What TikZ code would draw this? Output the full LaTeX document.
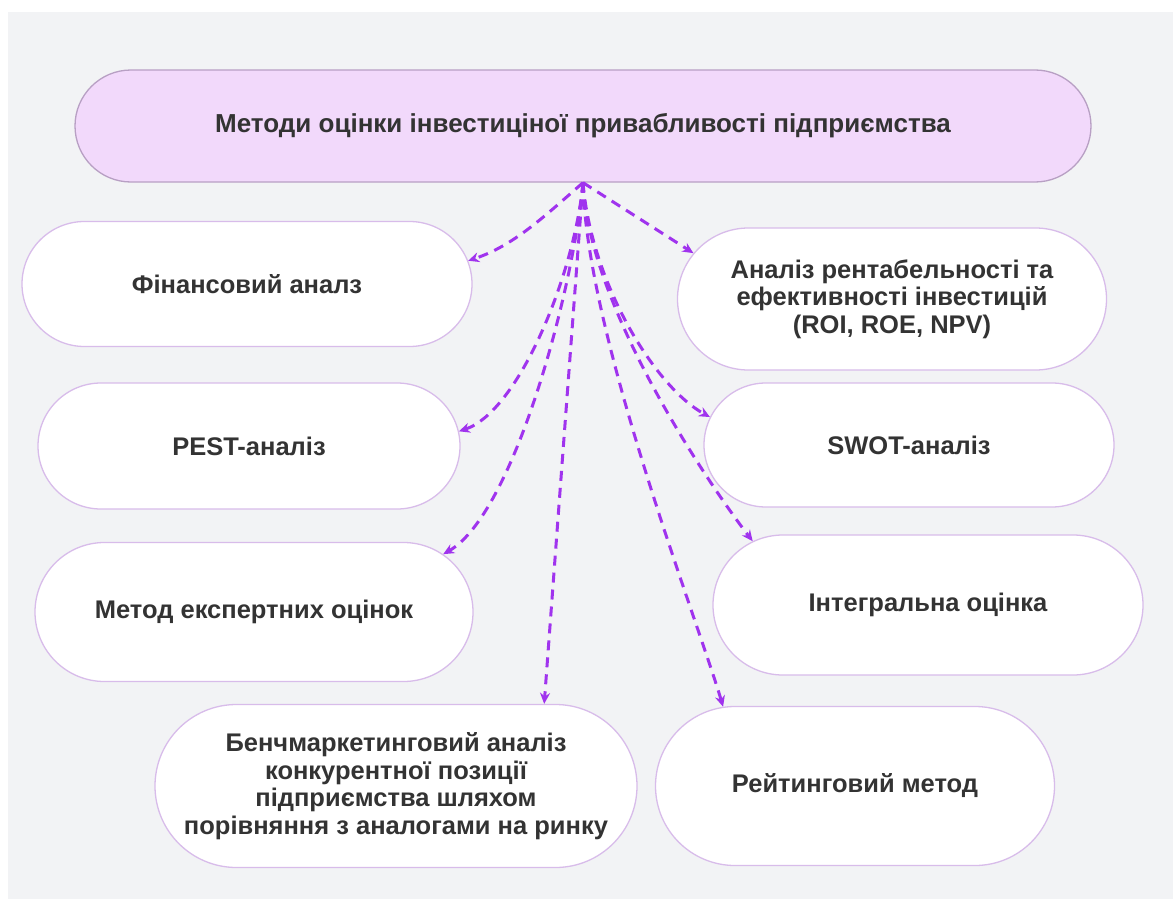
\documentclass[tikz,border=0pt]{standalone}
\usepackage{fontspec}
\setmainfont{Liberation Sans}
\usetikzlibrary{shapes.misc,arrows.meta}
\definecolor{bg}{HTML}{F2F3F5}
\definecolor{arrowc}{HTML}{A033EE}
\definecolor{nodeb}{HTML}{D8BCEA}
\definecolor{topfill}{HTML}{F2D9FB}
\definecolor{topb}{HTML}{B8A0C4}
\definecolor{txt}{HTML}{333333}
\begin{document}
\begin{tikzpicture}[x=1pt,y=-1pt,
  box/.style={rounded rectangle, draw=nodeb, line width=1.3pt, fill=white,
    align=center, text=txt, inner sep=0pt,
    font=\bfseries\fontsize{25.5}{27.5}\selectfont},
  topbox/.style={box, fill=topfill, draw=topb, font=\bfseries\fontsize{26}{28}\selectfont},
  link/.style={draw=arrowc, line width=3pt, dash pattern=on 10pt off 7pt,
    -{Stealth[length=11pt,width=10pt]}}]
\useasboundingbox (0,0) rectangle (1173,899);
\fill[white] (0,0) rectangle (1173,899);
\fill[bg] (8,12) rectangle (1173,899);

\node[topbox, minimum width=1016pt, minimum height=112pt] (top) at (583,126)
  {Методи оцінки інвестиціної привабливості підприємства};

\node[box, minimum width=450pt, minimum height=125pt] (fin) at (247,284) {Фінансовий аналз};
\node[box, minimum width=422pt, minimum height=126pt] (pest) at (249,446) {PEST-аналіз};
\node[box, minimum width=438pt, minimum height=139pt] (met) at (254,612) {Метод експертних оцінок};
\node[box, minimum width=482pt, minimum height=163pt] (ben) at (396,786)
  {Бенчмаркетинговий аналіз\\конкурентної позиції\\підприємства шляхом\\порівняння з аналогами на ринку};
\node[box, minimum width=429pt, minimum height=142pt] (an) at (892,299)
  {Аналіз рентабельності та\\ефективності інвестицій\\(ROI, ROE, NPV)};
\node[box, minimum width=410pt, minimum height=124pt] (swot) at (909,445) {SWOT-аналіз};
\node[box, minimum width=430pt, minimum height=140pt] (int) at (928,605) {Інтегральна оцінка};
\node[box, minimum width=399pt, minimum height=159pt] (rat) at (855,786) {Рейтинговий метод};

\draw[link] (top.south) .. controls +(-40,35) and +(45,-15) .. (fin.6.5);
\draw[link] (top.south) -- (an.167.6);
\draw[link] (top.south) .. controls +(-8,90) and +(60,-20) .. (pest.4.3);
\draw[link] (top.south) .. controls +(8,100) and +(-55,-30) .. (swot.172.7);
\draw[link] (top.south) .. controls +(-10,110) and +(70,-40) .. (met.17.4);
\draw[link] (top.south) .. controls +(5,120) and +(-50,-65) .. (int.160.8);
\draw[link] (top.south) -- (ben.29);
\draw[link] (top.south) .. controls +(3,150) and +(-25,-85) .. (rat.149.5);
\end{tikzpicture}
\end{document}
